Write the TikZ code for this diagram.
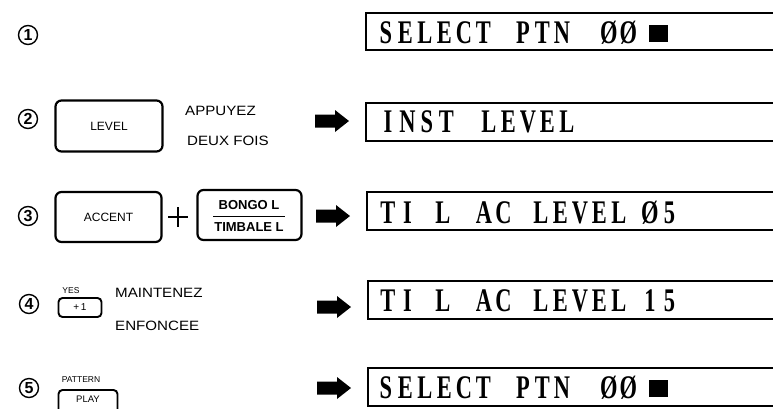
\documentclass[tikz,border=0pt]{standalone}
\usepackage{fontspec}
\setmainfont{Liberation Sans}
\newfontfamily\lcdfont[FakeStretch=0.68]{Liberation Serif Bold}
\newfontfamily\labfont[FakeStretch=1.12]{Liberation Sans}
\makeatletter
\def\lcdend{}
\newcommand\lcdw[1]{\lcd@loop#1\lcdend}
\def\lcd@loop#1{\ifx#1\lcdend\else\makebox[19.5pt][c]{#1}\expandafter\lcd@loop\fi}
\makeatother
\tikzset{
  lcdbox/.style={line width=1.3pt},
  lcdtxt/.style={anchor=base west, inner sep=0pt, font=\lcdfont\fontsize{33}{33}\selectfont},
  keybox/.style={draw, line width=2.2pt, rounded corners=6pt, inner sep=0pt, font=\fontsize{12}{12}\selectfont},
  smallkey/.style={draw, line width=1.9pt, rounded corners=4pt, inner sep=0pt, font=\fontsize{10}{10}\selectfont},
  circnum/.style={circle, draw, line width=1.4pt, minimum size=19pt, inner sep=0pt, font=\bfseries\fontsize{16}{16}\selectfont},
  lab/.style={anchor=west, inner sep=0pt, font=\labfont\fontsize{13.5}{13.5}\selectfont},
  tiny/.style={inner sep=0pt, font=\fontsize{8.5}{8.5}\selectfont},
  barrow/.pic={\fill (0,-6.5) -- (20,-6.5) -- (20,-11) -- (34,0) -- (20,11) -- (20,6.5) -- (0,6.5) -- cycle;},
  sq/.style={fill=black, inner sep=0pt, minimum width=19pt, minimum height=17pt}
}
\begin{document}
\begin{tikzpicture}[x=1pt,y=-1pt]
\useasboundingbox (0,0) rectangle (773,408);
\clip (0,0) rectangle (773,408);
% circled numbers
\node[circnum] (n1) at (28,35) {1};
\node[circnum] (n2) at (28,119) {2};
\node[circnum] (n3) at (28,216) {3};
\node[circnum] (n4) at (29,304) {4};
\node[circnum] (n5) at (29,388) {5};
% row 2
\node[keybox, minimum width=107pt, minimum height=51pt] (klevel) at (109,126) {LEVEL};
\node[lab] (app) at (185,111) {APPUYEZ};
\node[lab] (deux) at (187,141) {DEUX FOIS};
% row 3
\node[keybox, minimum width=106pt, minimum height=50pt] (kacc) at (108.5,217) {ACCENT};
\draw[line width=1.3pt] (168,217) -- (188,217) (178,207) -- (178,227);
\node[keybox, minimum width=104pt, minimum height=50pt] (kbongo) at (249.5,215) {};
\node[inner sep=0pt, font=\bfseries\fontsize{13}{13}\selectfont] (bongo) at (249,205) {BONGO L};
\node[inner sep=0pt, font=\bfseries\fontsize{13}{13}\selectfont] (timb) at (249,227) {TIMBALE L};
\draw[line width=1pt] (213,216) -- (285,216);
% row 4
\node[tiny] (yes) at (71,291) {YES};
\node[smallkey, minimum width=43pt, minimum height=19pt] (kyes) at (80,307.5) {+\,1};
\node[lab] (maint) at (115,293) {MAINTENEZ};
\node[lab] (enf) at (115,326) {ENFONCEE};
% row 5
\node[tiny] (patt) at (81,380) {PATTERN};
\node[smallkey, minimum width=59pt, minimum height=28pt] (kplay) at (88,404) {};
\node[tiny, font=\fontsize{9.5}{9.5}\selectfont] (play) at (88,399) {PLAY};
% arrows
\pic at (315,121) {barrow};
\pic at (316,216) {barrow};
\pic at (317,307) {barrow};
\pic at (317,388) {barrow};
% displays
\draw[lcdbox] (773,13) -| (366,50) -- (773,50);
\draw[lcdbox] (773,103) -| (366,141) -- (773,141);
\draw[lcdbox] (773,192) -| (367,230) -- (773,230);
\draw[lcdbox] (773,281) -| (368,319) -- (773,319);
\draw[lcdbox] (773,368) -| (368,406) -- (773,406);
% row 1 text
\node[lcdtxt] (d1a) at (376,43) {\lcdw{SELECT}};
\node[lcdtxt] (d1b) at (513,43) {\lcdw{PTN}};
\node[lcdtxt] (d1c) at (599,43) {\lcdw{ØØ}};
\node[sq] (d1d) at (658,33.5) {};
% row 2 text
\node[lcdtxt] (d2a) at (378,132) {\lcdw{INST}};
\node[lcdtxt] (d2b) at (479,132) {\lcdw{LEVEL}};
% row 3 text
\node[lcdtxt] (d3a) at (378,223) {\lcdw{TI}};
\node[lcdtxt] (d3b) at (433,223) {\lcdw{L}};
\node[lcdtxt] (d3c) at (474,223) {\lcdw{AC}};
\node[lcdtxt] (d3d) at (531,223) {\lcdw{LEVEL}};
\node[lcdtxt] (d3e) at (640,223) {\lcdw{Ø5}};
% row 4 text
\node[lcdtxt] (d4a) at (378,311) {\lcdw{TI}};
\node[lcdtxt] (d4b) at (433,311) {\lcdw{L}};
\node[lcdtxt] (d4c) at (474,311) {\lcdw{AC}};
\node[lcdtxt] (d4d) at (531,311) {\lcdw{LEVEL}};
\node[lcdtxt] (d4e) at (640,311) {\lcdw{15}};
% row 5 text
\node[lcdtxt] (d5a) at (376,398) {\lcdw{SELECT}};
\node[lcdtxt] (d5b) at (513,398) {\lcdw{PTN}};
\node[lcdtxt] (d5c) at (599,398) {\lcdw{ØØ}};
\node[sq] (d5d) at (658,388.5) {};
\end{tikzpicture}
\end{document}
